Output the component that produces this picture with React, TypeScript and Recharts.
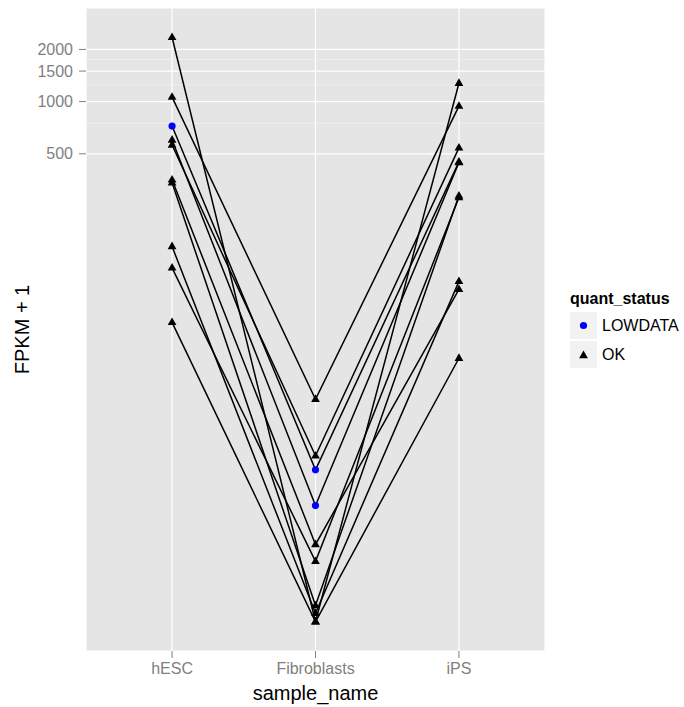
import React from "react";
import { ComposedChart, Line, XAxis, YAxis, CartesianGrid, ReferenceLine } from "recharts";

const samples = ["hESC", "Fibroblasts", "iPS"];
const genes = ["g1", "g2", "g3", "g4", "g5", "g6", "g7", "g8", "g9", "g10"];
const hescValues = [2350, 1061, 723, 601, 562, 354, 340, 146, 110, 53.3];
const fibroValues = [1.0, 19.2, 7.52, 4.68, 9.06, 2.79, 1.24, 1.12, 2.23, 1.0];
const ipsValues = [1277, 942, 449, 445, 541, 82.6, 286, 91.9, 280, 33.1];
const hescStatus = ["OK", "OK", "LOWDATA", "OK", "OK", "OK", "OK", "OK", "OK", "OK"];
const fibroStatus = ["OK", "OK", "LOWDATA", "LOWDATA", "OK", "OK", "OK", "OK", "OK", "OK"];
const ipsStatus = ["OK", "OK", "OK", "OK", "OK", "OK", "OK", "OK", "OK", "OK"];
const yTicks = [500, 1000, 1500, 2000];
const yMinorGrid = [750, 1250, 1750];
const statusLabels = ["LOWDATA", "OK"];
const legendTitle = "quant_status";
const xTitle = "sample_name";
const yTitle = "FPKM + 1";

const valuesBySample = [hescValues, fibroValues, ipsValues];
const statusBySample = [hescStatus, fibroStatus, ipsStatus];

const rows = samples.map((s, i) => {
  const r: any = { x: i + 1, sample: s };
  genes.forEach((g, j) => {
    r[g] = valuesBySample[i][j];
  });
  return r;
});

const FONT = "'Liberation Sans', Arial, Helvetica, sans-serif";
const GREY = "#7F7F7F";

function Triangle({ cx, cy }: { cx: number; cy: number }) {
  const hw = 4.4;
  return (
    <polygon
      points={`${cx},${cy - 4.9} ${cx - hw},${cy + 2.7} ${cx + hw},${cy + 2.7}`}
      fill="#000000"
    />
  );
}

function renderPoint(p: any, geneIdx: number) {
  const { cx, cy, index } = p;
  if (cx == null || cy == null) return <g key={`e-${geneIdx}-${index}`} />;
  const status = statusBySample[index][geneIdx];
  if (status === "LOWDATA") {
    return <circle key={`p-${geneIdx}-${index}`} cx={cx} cy={cy} r={3.6} fill="#0000FF" />;
  }
  return (
    <g key={`p-${geneIdx}-${index}`}>
      <Triangle cx={cx} cy={cy} />
    </g>
  );
}

export default function App() {
  return (
    <div
      style={{
        position: "absolute",
        left: 0,
        top: 0,
        width: 684,
        height: 707,
        background: "#FFFFFF",
        fontFamily: FONT,
      }}
    >
      <ComposedChart
        width={684}
        height={707}
        data={rows}
        margin={{ top: 8, right: 139, bottom: 0, left: 0 }}
      >
        <CartesianGrid stroke="#FFFFFF" strokeWidth={1.2} fill="#E5E5E5" fillOpacity={1} />
        {yMinorGrid.map((v) => (
          <ReferenceLine key={`m${v}`} y={v} stroke="#F2F2F2" strokeWidth={0.7} />
        ))}
        <XAxis
          type="number"
          dataKey="x"
          domain={[0.4, 3.6]}
          ticks={[1, 2, 3]}
          allowDataOverflow
          interval={0}
          tickFormatter={(v: number) => samples[v - 1]}
          height={56}
          axisLine={false}
          tickLine={{ stroke: GREY, strokeWidth: 1 }}
          tickSize={7}
          tickMargin={5}
          tick={{ fill: GREY, fontSize: 16, fontFamily: FONT }}
          label={{
            content: () => (
              <text x={315.5} y={700} textAnchor="middle" fontSize={20} fill="#000" fontFamily={FONT}>
                {xTitle}
              </text>
            ),
          }}
        />
        <YAxis
          type="number"
          scale="log"
          domain={[0.678, 3467]}
          allowDataOverflow
          ticks={yTicks}
          interval={0}
          width={86}
          axisLine={false}
          tickLine={{ stroke: GREY, strokeWidth: 1 }}
          tickSize={7}
          tickMargin={6}
          tick={{ fill: GREY, fontSize: 16, fontFamily: FONT }}
          label={{
            content: () => (
              <text
                x={29}
                y={329.5}
                transform="rotate(-90 29 329.5)"
                textAnchor="middle"
                fontSize={20}
                fill="#000"
                fontFamily={FONT}
              >
                {yTitle}
              </text>
            ),
          }}
        />
        {genes.map((g) => (
          <Line
            key={`l-${g}`}
            dataKey={g}
            type="linear"
            stroke="#000000"
            strokeWidth={1.5}
            dot={false}
            activeDot={false}
            isAnimationActive={false}
          />
        ))}
        {genes.map((g, j) => (
          <Line
            key={`d-${g}`}
            dataKey={g}
            type="linear"
            stroke="none"
            dot={(p: any) => renderPoint(p, j)}
            activeDot={false}
            isAnimationActive={false}
          />
        ))}
      </ComposedChart>
      <svg
        width={130}
        height={100}
        style={{ position: "absolute", left: 554, top: 280 }}
      >
        <text x={16} y={24} fontSize={16} fontWeight="bold" fill="#000" fontFamily={FONT}>
          {legendTitle}
        </text>
        {statusLabels.map((lab, i) => {
          const ky = 32 + i * 29;
          return (
            <g key={lab}>
              <rect x={16} y={ky} width={27} height={27} fill="#F2F2F2" />
              {lab === "LOWDATA" ? (
                <circle cx={29.5} cy={ky + 13.5} r={3.6} fill="#0000FF" />
              ) : (
                <Triangle cx={29.5} cy={ky + 14.5} />
              )}
              <text x={48} y={ky + 13.5} dy="0.36em" fontSize={16} fill="#000" fontFamily={FONT}>
                {lab}
              </text>
            </g>
          );
        })}
      </svg>
    </div>
  );
}
